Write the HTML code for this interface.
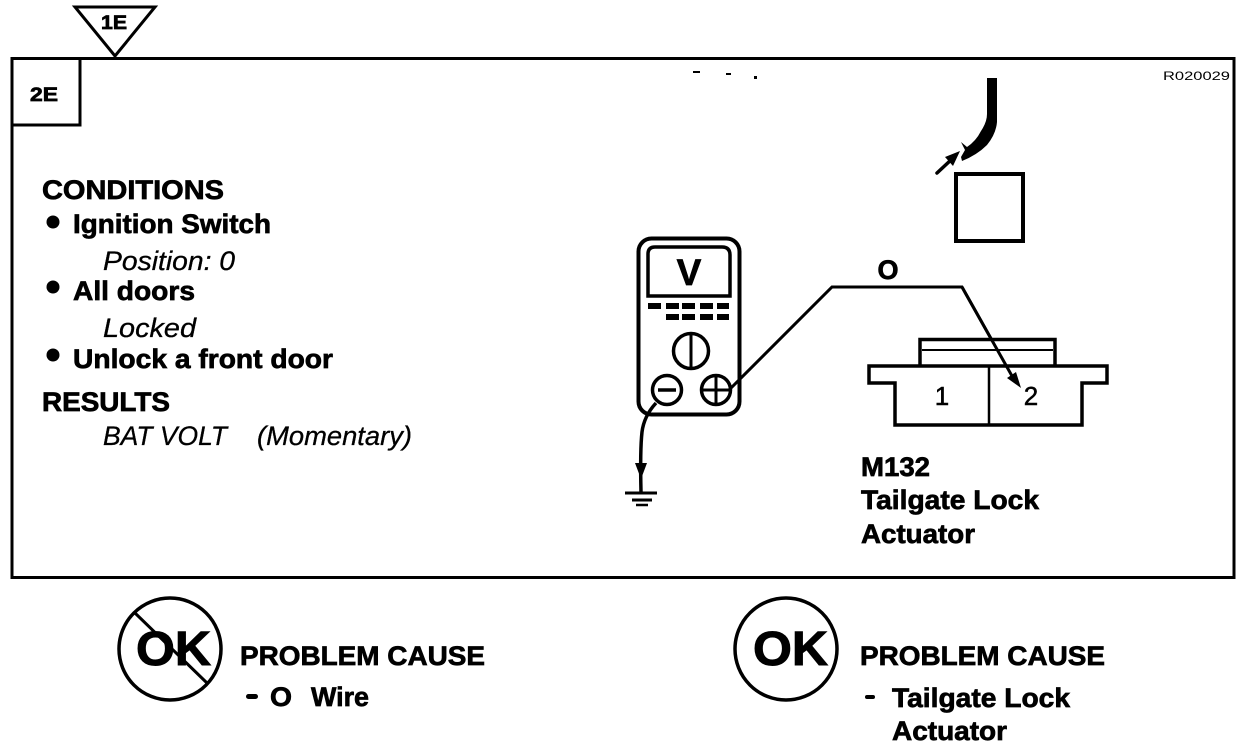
<!DOCTYPE html>
<html><head><meta charset="utf-8"><style>
html,body{margin:0;padding:0;background:#fff}
svg{display:block}
text{font-family:"Liberation Sans",sans-serif;fill:#000}
.b{font-weight:bold;font-size:27px;stroke:#000;stroke-width:.7px}
.i{font-style:italic;font-size:27px;stroke:#000;stroke-width:.3px}
</style></head><body>
<svg width="1248" height="748" viewBox="0 0 1248 748" xmlns="http://www.w3.org/2000/svg">
<rect width="1248" height="748" fill="#fff"/>
<!-- frame -->
<rect x="12" y="58.500" width="1222" height="519" fill="none" stroke="#000" stroke-width="3"/>
<path d="M12 125H80V58" fill="none" stroke="#000" stroke-width="3"/>
<text x="30" y="101" class="b" style="font-size:19px" textLength="28" lengthAdjust="spacingAndGlyphs">2E</text>
<!-- triangle -->
<path d="M75 7H155L115 56Z" fill="#fff" stroke="#000" stroke-width="3"/>
<text x="101" y="29" class="b" style="font-size:19px" textLength="26" lengthAdjust="spacingAndGlyphs">1E</text>
<text x="1163" y="80" style="font-size:12px" textLength="67" lengthAdjust="spacingAndGlyphs">R020029</text>
<rect x="693" y="71" width="7" height="2"/><rect x="726" y="73" width="5" height="2"/><rect x="754" y="76" width="3" height="3"/>
<!-- left text -->
<text x="42" y="199" class="b" textLength="182" lengthAdjust="spacingAndGlyphs">CONDITIONS</text>
<circle cx="53" cy="222" r="6.500"/>
<text x="73" y="233" class="b" textLength="198" lengthAdjust="spacingAndGlyphs">Ignition Switch</text>
<text x="103" y="270" class="i" textLength="132" lengthAdjust="spacingAndGlyphs">Position: 0</text>
<circle cx="53" cy="287" r="6.500"/>
<text x="73" y="300" class="b" textLength="122" lengthAdjust="spacingAndGlyphs">All doors</text>
<text x="103" y="337" class="i" textLength="93" lengthAdjust="spacingAndGlyphs">Locked</text>
<circle cx="53" cy="355" r="6.500"/>
<text x="73" y="368" class="b" textLength="260" lengthAdjust="spacingAndGlyphs">Unlock a front door</text>
<text x="42" y="411" class="b" textLength="128" lengthAdjust="spacingAndGlyphs">RESULTS</text>
<text x="103" y="445" class="i" textLength="124" lengthAdjust="spacingAndGlyphs">BAT VOLT</text>
<text x="257" y="445" class="i" textLength="155" lengthAdjust="spacingAndGlyphs">(Momentary)</text>
<!-- meter -->
<rect x="638.500" y="238.500" width="101" height="176" rx="13" fill="#fff" stroke="#000" stroke-width="4"/>
<path d="M655 247H722Q730 247 730 255V296H648V254Q648 247 655 247Z" fill="#fff" stroke="#000" stroke-width="3.500"/>
<text x="689" y="285" text-anchor="middle" class="b" style="font-size:37px">V</text>
<g>
<rect x="648" y="303" width="13" height="6"/><rect x="666" y="303" width="13" height="6"/><rect x="682" y="303" width="13" height="6"/><rect x="700" y="303" width="13" height="6"/><rect x="717" y="303" width="12" height="6"/>
<rect x="666" y="314" width="13" height="6"/><rect x="682" y="314" width="13" height="6"/><rect x="700" y="314" width="13" height="6"/><rect x="717" y="314" width="12" height="6"/>
</g>
<circle cx="691" cy="351" r="17.500" fill="none" stroke="#000" stroke-width="3.500"/>
<path d="M691 334V368" stroke="#000" stroke-width="3"/>
<circle cx="667" cy="390" r="14.500" fill="#fff" stroke="#000" stroke-width="3.500"/>
<path d="M658 390H676" stroke="#000" stroke-width="3.500"/>
<circle cx="716" cy="390" r="14.500" fill="#fff" stroke="#000" stroke-width="3.500"/>
<path d="M702 390H730M716 376V404" stroke="#000" stroke-width="3"/>
<!-- wires -->
<path d="M729 390L832 287H962L1012 376" fill="none" stroke="#000" stroke-width="3"/>
<path d="M656 403Q644 416 642 432Q640 450 641 492" fill="none" stroke="#000" stroke-width="3.500"/>
<path d="M635 463H647L641 479Z"/>
<path d="M625 493H657" stroke="#000" stroke-width="3"/>
<path d="M632 500H652" stroke="#000" stroke-width="3"/>
<path d="M636 505H648" stroke="#000" stroke-width="2.500"/>
<text x="888" y="279" text-anchor="middle" class="b" style="font-size:27px">O</text>
<!-- thick wire and square -->
<path d="M987 78H997V122Q996 134 987 145Q977 155 962 161L961 157L965 150L961 142L967 147Q976 141 981 131Q987 122 987 114Z"/>
<path d="M937 173L952 159" stroke="#000" stroke-width="3.500" stroke-linecap="round"/>
<path d="M945 157L960 151L953 166Z"/>
<rect x="956" y="174" width="67" height="67" fill="none" stroke="#000" stroke-width="4"/>
<!-- connector -->
<path d="M920 365V339.500H1055V365" fill="#fff" stroke="#000" stroke-width="3.500"/>
<path d="M922 350H1053" stroke="#000" stroke-width="2"/>
<path d="M869 366H1107V383H1082V425H895V383H869Z" fill="#fff" stroke="#000" stroke-width="3.500"/>
<path d="M989 367V424" stroke="#000" stroke-width="2.500"/>
<path d="M962 287L1012 376" fill="none" stroke="#000" stroke-width="3"/>
<path d="M1007 378L1021 388L1016 372Z"/>
<text x="942" y="405" text-anchor="middle" style="font-size:26px" stroke="#000" stroke-width=".5">1</text>
<text x="1031" y="405" text-anchor="middle" style="font-size:26px" stroke="#000" stroke-width=".5">2</text>
<text x="861" y="476" class="b" textLength="69" lengthAdjust="spacingAndGlyphs">M132</text>
<text x="861" y="509" class="b" textLength="178" lengthAdjust="spacingAndGlyphs">Tailgate Lock</text>
<text x="861" y="543" class="b" textLength="114" lengthAdjust="spacingAndGlyphs">Actuator</text>
<!-- OK left -->
<circle cx="170" cy="649" r="51" fill="none" stroke="#000" stroke-width="3.500"/>
<text x="136" y="665" class="b" style="font-size:48px;stroke-width:1px" textLength="75" lengthAdjust="spacingAndGlyphs">OK</text>
<path d="M135 613L207 683" stroke="#000" stroke-width="3"/>
<text x="240" y="665" class="b" textLength="245" lengthAdjust="spacingAndGlyphs">PROBLEM CAUSE</text>
<rect x="246" y="694" width="12" height="5" rx="2.500"/>
<text x="270" y="706" class="b" textLength="22" lengthAdjust="spacingAndGlyphs">O</text>
<text x="311" y="706" class="b" textLength="58" lengthAdjust="spacingAndGlyphs">Wire</text>
<!-- OK right -->
<circle cx="786" cy="649" r="51" fill="none" stroke="#000" stroke-width="3.500"/>
<text x="753" y="665" class="b" style="font-size:48px;stroke-width:1px" textLength="75" lengthAdjust="spacingAndGlyphs">OK</text>
<text x="860" y="665" class="b" textLength="245" lengthAdjust="spacingAndGlyphs">PROBLEM CAUSE</text>
<rect x="865" y="695" width="10" height="4" rx="2"/>
<text x="892" y="707" class="b" textLength="178" lengthAdjust="spacingAndGlyphs">Tailgate Lock</text>
<text x="892" y="740" class="b" textLength="115" lengthAdjust="spacingAndGlyphs">Actuator</text>
</svg>
</body></html>
